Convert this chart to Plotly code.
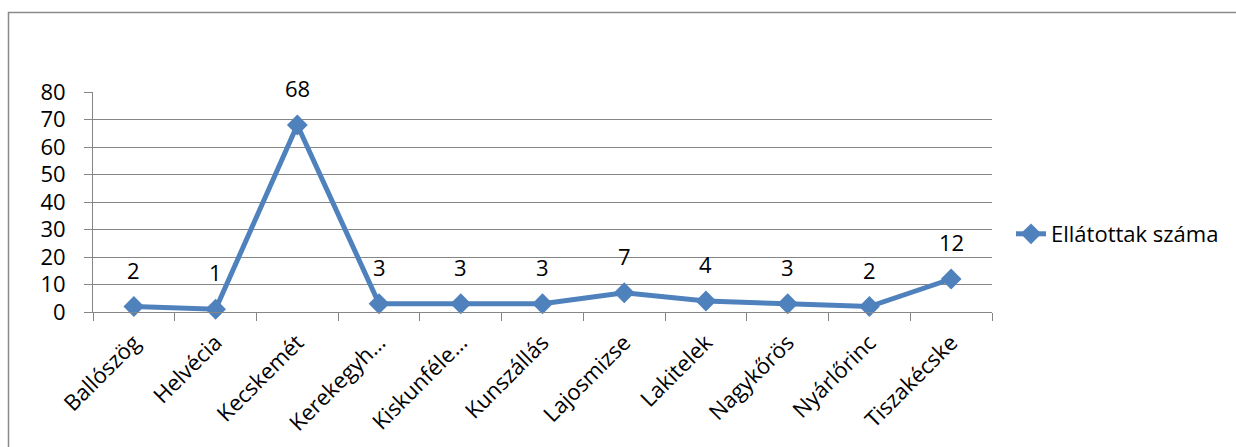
import plotly.graph_objects as go

categories = ["Ballószög", "Helvécia", "Kecskemét", "Kerekegyh…", "Kiskunféle…",
              "Kunszállás", "Lajosmizse", "Lakitelek", "Nagykőrös", "Nyárlőrinc", "Tiszakécske"]
values = [2, 1, 68, 3, 3, 3, 7, 4, 3, 2, 12]
series_name = "Ellátottak száma"
y_ticks = [0, 10, 20, 30, 40, 50, 60, 70, 80]

FONT = "'Open Sans', sans-serif"
FS = 22
BLUE = "#4F81BD"
GRID = "#868686"

W, H = 1236, 447
L, R, T, B = 93, 244, 92, 135
pw, ph = W - L - R, H - T - B

fig = go.Figure()
fig.add_trace(go.Scatter(
    x=categories, y=values, mode="lines+markers", name=series_name,
    line=dict(color=BLUE, width=5),
    marker=dict(symbol="diamond", size=16, color=BLUE),
    cliponaxis=False,
))

for c, v in zip(categories, values):
    fig.add_annotation(x=c, y=v, text=str(v), showarrow=False, yshift=37,
                       font=dict(family=FONT, size=FS, color="black"))

def px_x(p):
    return (p - L) / pw

def px_y(p):
    return (H - B - p) / ph

fig.add_shape(type="rect", xref="paper", yref="paper",
              x0=px_x(8.5), x1=px_x(1245), y0=px_y(460), y1=px_y(12.5),
              line=dict(color="#8a8a8a", width=1.5), fillcolor="rgba(0,0,0,0)", layer="below")

fig.update_layout(
    width=W, height=H,
    margin=dict(l=L, r=R, t=T, b=B, autoexpand=False),
    paper_bgcolor="white", plot_bgcolor="white",
    font=dict(family=FONT, size=FS, color="black"),
    showlegend=True,
    legend=dict(x=px_x(1011), y=px_y(234), xanchor="left", yanchor="middle",
                bgcolor="rgba(0,0,0,0)", font=dict(size=FS)),
)
fig.update_xaxes(
    type="category", tickangle=-45, showgrid=False, automargin=False,
    showline=True, linecolor=GRID, linewidth=1,
    ticks="outside", ticklen=8, tickcolor=GRID, tickson="boundaries",
    ticklabelstandoff=8,
    tickfont=dict(family=FONT, size=FS, color="black"),
    range=[-0.5, len(categories) - 0.5],
)
fig.update_yaxes(
    range=[0, 80], tickvals=y_ticks, showgrid=True, gridcolor=GRID, gridwidth=1,
    showline=True, linecolor=GRID, linewidth=1, automargin=False,
    ticks="outside", ticklen=8, tickcolor=GRID,
    ticklabelstandoff=14,
    tickfont=dict(family=FONT, size=FS, color="black"),
    zeroline=False,
)

fig.write_html("out.html")
